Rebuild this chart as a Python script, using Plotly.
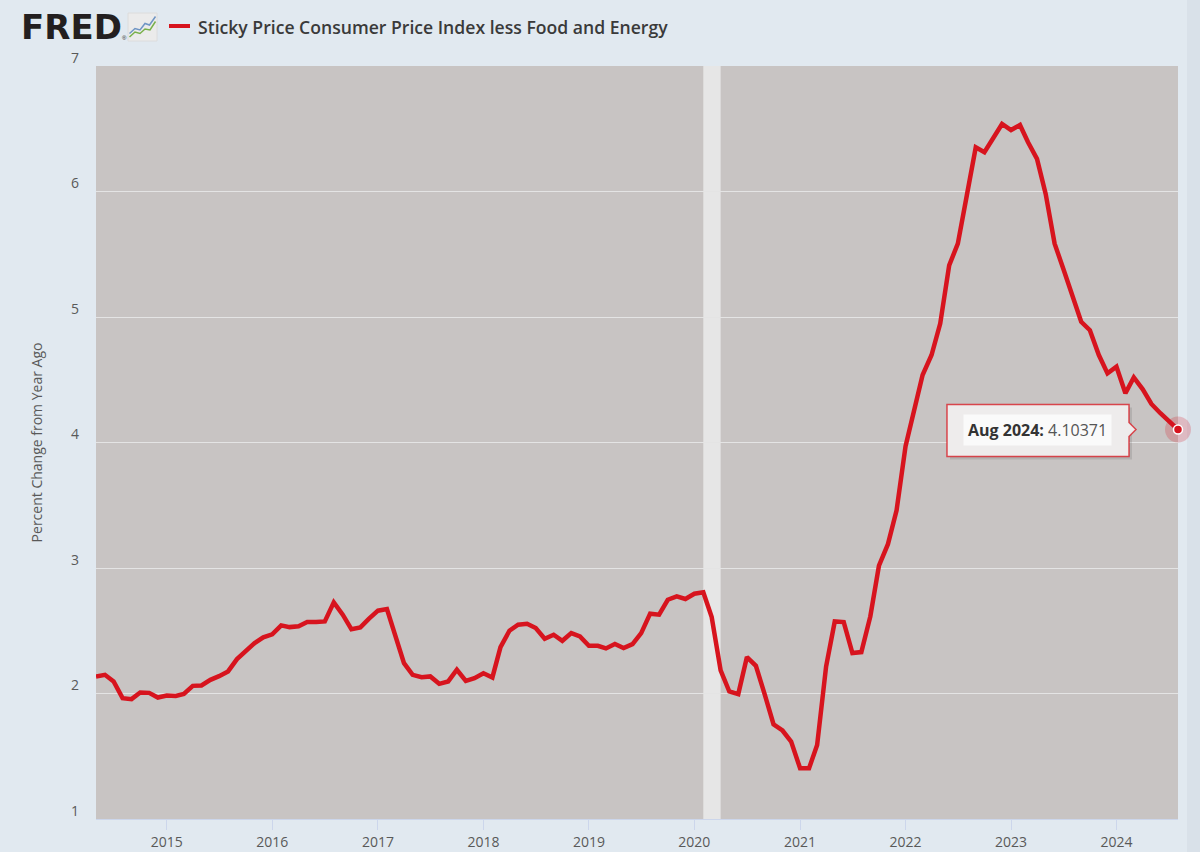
import pandas as pd
import plotly.graph_objects as go

# ---------------- data ----------------
start_month = "2014-05-01"
values = [
    # 2014 May-Dec
    2.136, 2.149, 2.096, 1.963, 1.955, 2.008, 2.005, 1.968,
    # 2015
    1.984, 1.981, 1.997, 2.061, 2.064, 2.109, 2.138, 2.176, 2.274, 2.340, 2.402, 2.447,
    # 2016
    2.471, 2.543, 2.529, 2.535, 2.569, 2.569, 2.574, 2.726, 2.628, 2.513, 2.527, 2.596,
    # 2017
    2.660, 2.673, 2.455, 2.242, 2.149, 2.130, 2.136, 2.077, 2.096, 2.189, 2.101, 2.122,
    # 2018
    2.162, 2.128, 2.370, 2.500, 2.548, 2.556, 2.521, 2.436, 2.468, 2.420, 2.481, 2.455,
    # 2019
    2.380, 2.380, 2.359, 2.394, 2.362, 2.394, 2.481, 2.636, 2.628, 2.747, 2.774, 2.753,
    # 2020
    2.795, 2.806, 2.609, 2.184, 2.016, 1.995, 2.290, 2.221, 1.989, 1.755, 1.705, 1.617,
    # 2021
    1.404, 1.404, 1.590, 2.215, 2.574, 2.569, 2.322, 2.330, 2.614, 3.019, 3.190, 3.460,
    # 2022
    3.970, 4.260, 4.538, 4.697, 4.948, 5.412, 5.584, 5.968, 6.352, 6.313, 6.426, 6.538,
    # 2023
    6.490, 6.530, 6.392, 6.260, 5.981, 5.584, 5.385, 5.160, 4.962, 4.895, 4.697, 4.551,
    # 2024 Jan-Aug
    4.604, 4.392, 4.519, 4.424, 4.307, 4.233, 4.175, 4.10371,
]
dates = pd.date_range(start_month, periods=len(values), freq="MS")

recession_start = ["2020-02-01"]
recession_end = ["2020-04-01"]

tick_years = [2015, 2016, 2017, 2018, 2019, 2020, 2021, 2022, 2023, 2024]
tick_labels = [str(y) for y in tick_years]
y_ticks = [1, 2, 3, 4, 5, 6, 7]

series_name = "Sticky Price Consumer Price Index less Food and Energy"
y_title = "Percent Change from Year Ago"
tip_label = "Aug 2024"
tip_value = "4.10371"

# ---------------- layout geometry ----------------
W, H = 1200, 852
L, R, T, B = 96, 1178, 66, 819

def px(x):
    return (x - L) / (R - L)

def py(y):
    return (B - y) / (B - T)

RED = "#d7141e"
PAPER = "#e1e9f0"
PLOT = "#c8c4c3"

fig = go.Figure()

# main line
fig.add_trace(go.Scatter(
    x=dates, y=values, mode="lines",
    line=dict(color=RED, width=4.5), hoverinfo="skip", showlegend=False,
))

# highlighted last point (halo + dot)
fig.add_trace(go.Scatter(
    x=[dates[-1]], y=[values[-1]], mode="markers",
    marker=dict(size=26, color="rgba(215,20,30,0.22)", line=dict(width=0)),
    hoverinfo="skip", showlegend=False, cliponaxis=False,
))
fig.add_trace(go.Scatter(
    x=[dates[-1]], y=[values[-1]], mode="markers",
    marker=dict(size=9, color=RED, line=dict(color="white", width=1.5)),
    hoverinfo="skip", showlegend=False, cliponaxis=False,
))

shapes = []
# recession shading
for s, e in zip(recession_start, recession_end):
    shapes.append(dict(type="rect", xref="x", yref="paper", x0=s, x1=e, y0=0, y1=1,
                       fillcolor="#e6e6e6", line=dict(width=0), layer="below"))

# right-edge strip of the page
shapes.append(dict(type="rect", xref="paper", yref="paper", x0=px(1187), x1=px(1205),
                   y0=py(860), y1=py(-5), fillcolor="#d9e1e9", line=dict(width=0), layer="below"))

# tooltip box anchored to the last point (pixel offsets)
last_x = dates[-1]
last_y = values[-1]
shadow_path = "M -228,22 L -46,22 L -46,-30 L -228,-30 Z"
shapes.append(dict(type="path", xref="x", yref="y", xsizemode="pixel", ysizemode="pixel",
                   xanchor=last_x, yanchor=last_y, path=shadow_path,
                   fillcolor="rgba(0,0,0,0.10)", line=dict(width=0)))
box_path = "M -231,25 L -49,25 L -49,7 L -42,0 L -49,-7 L -49,-27 L -231,-27 Z"
shapes.append(dict(type="path", xref="x", yref="y", xsizemode="pixel", ysizemode="pixel",
                   xanchor=last_x, yanchor=last_y, path=box_path,
                   fillcolor="#eeecec", line=dict(color="rgba(215,20,30,0.75)", width=1.5)))

# legend line in header
shapes.append(dict(type="line", xref="paper", yref="paper", x0=px(169), x1=px(190),
                   y0=py(26), y1=py(26), line=dict(color=RED, width=4)))

# FRED icon
shapes.append(dict(type="rect", xref="paper", yref="paper", x0=px(128), x1=px(157),
                   y0=py(41), y1=py(13), fillcolor="#ebebeb",
                   line=dict(color="#dcdcdc", width=1)))
blue_pts = [(129.5, 33.5), (135, 28.5), (140, 30), (145, 23.5), (149.5, 25), (155.5, 16.5)]
green_pts = [(129.5, 37), (135, 32), (140, 33.5), (145, 29), (150, 30), (155.5, 21.5)]
for pts, col in [(blue_pts, "#6f95c4"), (green_pts, "#78b04a")]:
    path = "M " + " L ".join(f"{px(a):.5f},{py(b):.5f}" for a, b in pts)
    shapes.append(dict(type="path", xref="paper", yref="paper", path=path,
                       line=dict(color=col, width=1.5)))

annotations = []
# tooltip text (inner white box)
annotations.append(dict(
    x=last_x, y=last_y, xref="x", yref="y", showarrow=False,
    xanchor="center", yanchor="middle", xshift=-141, yshift=-1,
    text=f"<b>{tip_label}:</b> <span style='color:#555555'>{tip_value}</span>",
    font=dict(family="Open Sans", size=16, color="#333333"),
    bgcolor="#fafafa", borderpad=4,
))
# title
annotations.append(dict(
    x=px(196), y=py(27), xref="paper", yref="paper", showarrow=False,
    xanchor="left", yanchor="middle", text=series_name,
    font=dict(family="Open Sans", size=17.6, color="#3a3a3a", weight=600),
))
# FRED logo text
annotations.append(dict(
    x=px(19), y=py(27), xref="paper", yref="paper", showarrow=False,
    xanchor="left", yanchor="middle", text="<b>FRED</b>",
    font=dict(family="DejaVu Sans", size=34, color="#231f20"),
))
annotations.append(dict(
    x=px(124.5), y=py(38), xref="paper", yref="paper", showarrow=False,
    xanchor="center", yanchor="middle", text="®",
    font=dict(family="Liberation Sans", size=6, color="#231f20"),
))

fig.update_layout(
    width=W, height=H,
    margin=dict(l=L, r=W - R, t=T, b=H - B, autoexpand=False),
    paper_bgcolor=PAPER, plot_bgcolor=PLOT,
    font=dict(family="Open Sans", color="#595959"),
    shapes=shapes, annotations=annotations, showlegend=False,
)
fig.update_xaxes(
    type="date", range=[dates[0], dates[-1]],
    tickvals=[f"{y}-01-01" for y in tick_years], ticktext=tick_labels,
    ticks="outside", ticklen=10, tickcolor="#ccd6eb", tickwidth=1,
    showgrid=False, zeroline=False, showline=True, linecolor="#ccd6eb", linewidth=1,
    tickfont=dict(family="Open Sans", size=14, color="#595959"),
)
fig.update_yaxes(
    range=[1, 7], tickvals=y_ticks, ticktext=[str(v) for v in y_ticks],
    showgrid=True, gridcolor="#e4e4e4", gridwidth=1, zeroline=False, showline=False,
    ticks="", ticklabelstandoff=16, ticklabelshift=-8,
    tickfont=dict(family="Open Sans", size=14, color="#595959"),
    title=dict(text=y_title, font=dict(family="Open Sans", size=14, color="#595959"), standoff=25),
)

fig.write_html("out.html")
